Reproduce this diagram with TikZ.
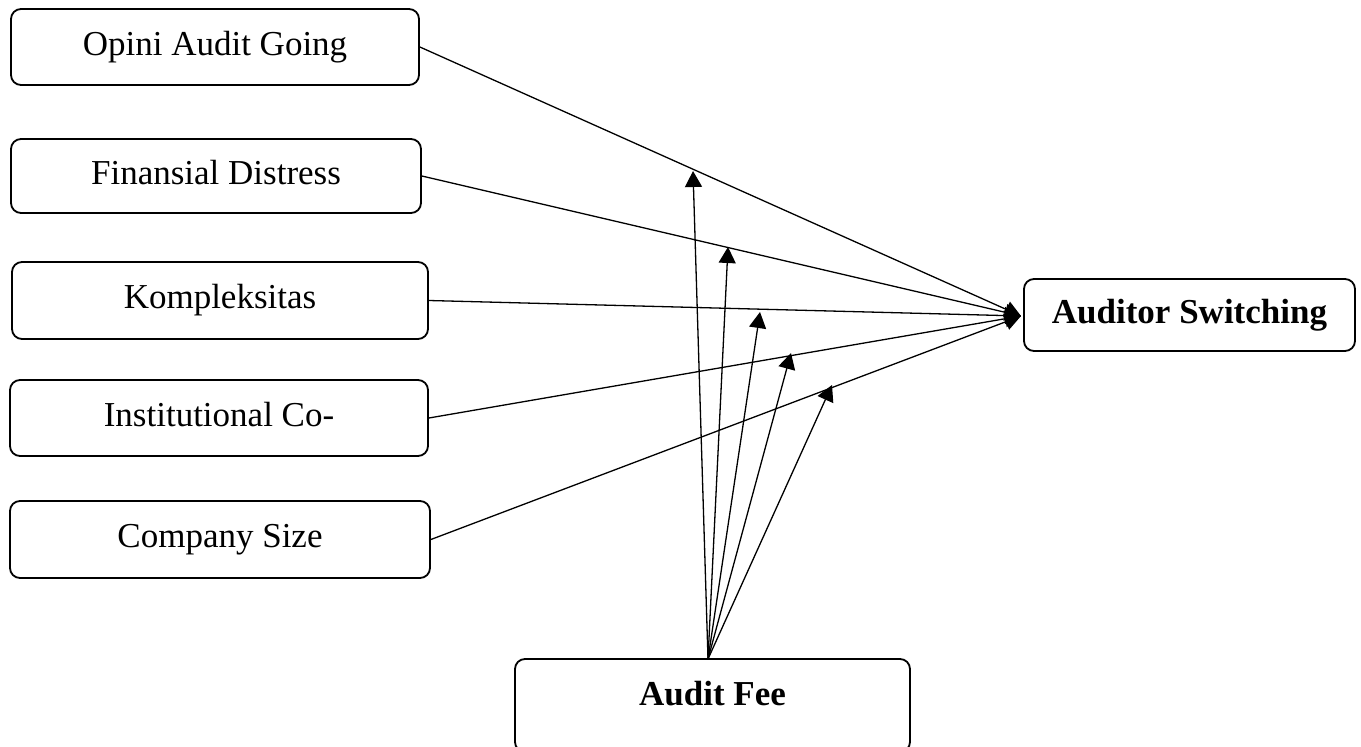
\documentclass[tikz,border=0pt]{standalone}
\usepackage{fontspec}
\setmainfont{Liberation Serif}
\usetikzlibrary{arrows.meta,calc}
\begin{document}
\begin{tikzpicture}[x=1pt,y=-1pt,
  box/.style={draw,line width=1.8pt,rounded corners=10pt,inner sep=0pt,
    font=\fontsize{35}{42}\selectfont,text height=24pt,text depth=8pt},
  bbox/.style={box,font=\fontsize{35}{42}\selectfont\bfseries},
  conn/.style={line width=1.3pt,-{Triangle[length=16pt,width=17pt]}}]
\useasboundingbox (0,0) rectangle (1361,747);
\node[box,minimum width=408pt,minimum height=76pt] (opini) at (215,47) {Opini Audit Going};
\node[box,minimum width=410pt,minimum height=74pt] (fin) at (216,176) {Finansial Distress};
\node[box,minimum width=416pt,minimum height=77pt] (komp) at (220,300.5) {Kompleksitas};
\node[box,minimum width=418pt,minimum height=76pt] (inst) at (219,418) {Institutional Co-};
\node[box,minimum width=420pt,minimum height=77pt] (comp) at (220,539.5) {Company Size};
\node[bbox,minimum width=331pt,minimum height=72pt] (as) at (1189.5,315) {Auditor Switching};
\node[bbox,minimum width=395pt,minimum height=93pt,text depth=23pt,text height=22pt] (fee) at (712.5,705.5) {Audit Fee};
\coordinate (tip) at (1021,316);
\draw[conn] (opini.east) -- (tip);
\draw[conn] (fin.east) -- (tip);
\draw[conn] (komp.east) -- (tip);
\draw[conn] (inst.east) -- (tip);
\draw[conn] (comp.east) -- (tip);
\coordinate (m1) at (693,171);
\coordinate (m2) at (728,247);
\coordinate (m3) at (760,312);
\coordinate (m4) at (791,353);
\coordinate (m5) at (832,385);
\coordinate (src) at (708,659);
\foreach \m in {m1,m2,m3,m4,m5} \draw[conn] (src) -- (\m);
\end{tikzpicture}
\end{document}
